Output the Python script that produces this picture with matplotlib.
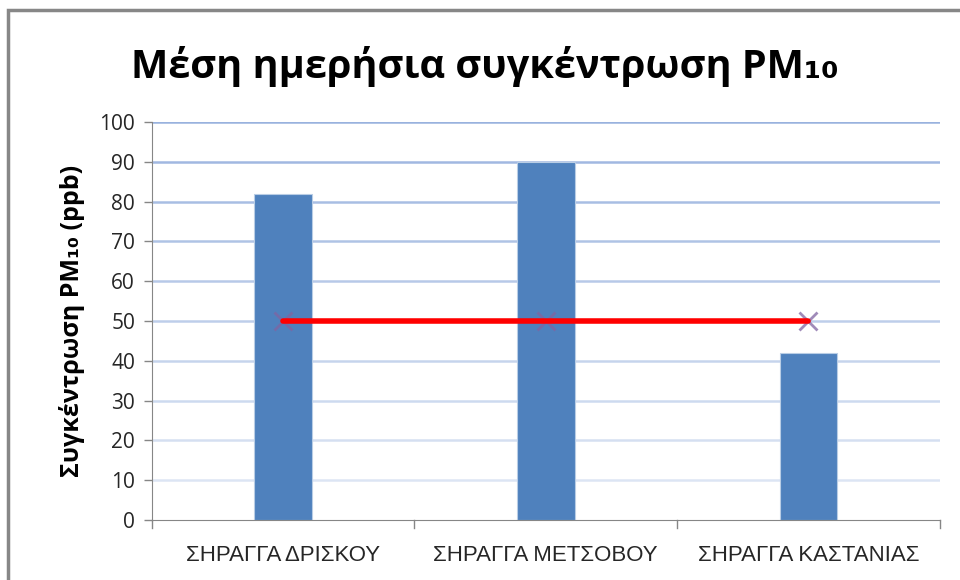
import numpy as np
import matplotlib.pyplot as plt
from matplotlib.patches import Rectangle

plt.rcParams["font.family"] = ["Open Sans", "Noto Sans", "DejaVu Sans"]

# δεδομένα
categories = ["ΣΗΡΑΓΓΑ ΔΡΙΣΚΟΥ", "ΣΗΡΑΓΓΑ ΜΕΤΣΟΒΟΥ", "ΣΗΡΑΓΓΑ ΚΑΣΤΑΝΙΑΣ"]
pm10 = [82, 90, 42]
limit = [50, 50, 50]
yticks = [0, 10, 20, 30, 40, 50, 60, 70, 80, 90, 100]

fig = plt.figure(figsize=(9.6, 5.8), dpi=100)
ax = fig.add_axes([0.158, 0.1034, 0.821, 0.6863])

x = np.arange(len(categories))

# οριζόντιες γραμμές πλέγματος (ξεθωριάζουν προς τα κάτω)
for i, t in enumerate(yticks[1:]):
    a = 0.3 + 0.6 * i / (len(yticks) - 2)
    ax.axhline(t, color="#8EAADB", lw=1.8, alpha=a, zorder=1)

ax.bar(x, pm10, width=0.22, color="#4F81BD", edgecolor="#B9CDE5",
       linewidth=0.8, zorder=2)

ax.plot(x, limit, linestyle="none", marker="x", markersize=13, mew=2,
        color="#8064A2", alpha=0.75, zorder=3)
ax.plot(x, limit, color="#FF0000", lw=4, solid_capstyle="round", zorder=4)

ax.set_xlim(-0.5, 2.5)
ax.set_ylim(0, 100)
ax.set_yticks(yticks)
ax.set_yticklabels([str(t) for t in yticks], fontsize=15, color="#262626")
ax.tick_params(axis="y", length=6, width=1, color="#868686", pad=6)

ax.set_xticks(x)
ax.set_xticklabels(categories, fontsize=16, color="#262626",
                   family=["Liberation Sans Narrow", "Liberation Sans", "DejaVu Sans"])
ax.tick_params(axis="x", length=0, pad=18)
for b in [-0.5, 0.5, 1.5, 2.5]:
    ax.plot([b, b], [0, -2], color="#868686", lw=1, clip_on=False)

for s in ["top", "right"]:
    ax.spines[s].set_visible(False)
ax.spines["left"].set_color("#868686")
ax.spines["bottom"].set_color("#868686")

ax.set_ylabel("Συγκέντρωση PM₁₀ (ppb)", fontsize=18, fontweight="bold",
              labelpad=10, family=["Open Sans", "DejaVu Sans"])

fig.text(0.505, 0.885, "Μέση ημερήσια συγκέντρωση PM₁₀", ha="center", va="center",
         fontsize=28.5, fontweight="bold", family=["Open Sans", "DejaVu Sans"])

# πλαίσιο γραφήματος
fig.patches.append(Rectangle((8 / 960, -0.1), 1.2, 1 - 10 / 580 + 0.1,
                             transform=fig.transFigure, fill=False,
                             edgecolor="#878787", lw=2.5))

fig.savefig("out.png", dpi=100, facecolor="white")
